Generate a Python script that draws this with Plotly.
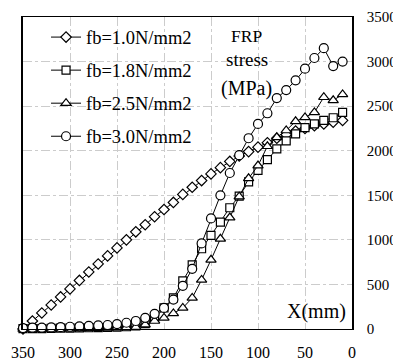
import plotly.graph_objects as go

x_mm = [350, 340, 330, 320, 310, 300, 290, 280, 270, 260, 250, 240, 230, 220, 210, 200,
        190, 180, 170, 160, 150, 140, 130, 120, 110, 100, 90, 80, 70, 60, 50, 40, 30, 20, 10]

fb10 = [0, 90, 180, 270, 360, 450, 545, 640, 730, 820, 910, 1000, 1090, 1170, 1260, 1340,
        1420, 1510, 1590, 1665, 1740, 1810, 1880, 1940, 1990, 2040, 2090, 2140, 2180, 2220,
        2250, 2280, 2300, 2320, 2340]
fb18 = [5, 5, 5, 8, 10, 10, 12, 14, 15, 18, 20, 25, 35, 60, 120, 236,
        350, 540, 720, 900, 1050, 1200, 1360, 1490, 1650, 1780, 1900, 2020, 2110, 2190,
        2260, 2300, 2340, 2370, 2430]
fb25 = [0, 0, 2, 3, 5, 5, 6, 8, 10, 12, 15, 18, 22, 50, 90, 124,
        175, 236, 349, 551, 776, 1012, 1250, 1485, 1690, 1833, 2050, 2150, 2227, 2330,
        2373, 2430, 2600, 2565, 2632]
fb30 = [10, 15, 15, 18, 20, 25, 30, 35, 40, 45, 55, 70, 90, 125, 170, 236,
        330, 484, 675, 960, 1240, 1500, 1750, 1950, 2140, 2300, 2420, 2590, 2680, 2790,
        2920, 3040, 3150, 2950, 3000]

names = ["fb=1.0N/mm2", "fb=1.8N/mm2", "fb=2.5N/mm2", "fb=3.0N/mm2"]
series = [fb10, fb18, fb25, fb30]
symbols = ["diamond", "square", "triangle-up", "circle"]
sizes = [8, 8, 9, 9]

FONT = "Liberation Serif, Times New Roman, serif"

fig = go.Figure()
for i, (nm, ys, sym, sz) in enumerate(zip(names, series, symbols, sizes)):
    fig.add_trace(go.Scatter(
        x=x_mm, y=ys, name=nm, mode="lines+markers",
        line=dict(color="black", width=1),
        marker=dict(symbol=sym, size=sz, color="white",
                    line=dict(color="black", width=1.2)),
        cliponaxis=False, legendgroup=nm,
    ))

fig.update_layout(
    width=393, height=355,
    margin=dict(l=15, r=49, t=9, b=34),
    paper_bgcolor="white", plot_bgcolor="white",
    font=dict(family=FONT, size=16, color="black"),
    showlegend=True,
    legend=dict(x=0.07, y=0.995, xanchor="left", yanchor="top",
                bgcolor="rgba(0,0,0,0)", font=dict(family=FONT, size=18.5),
                tracegroupgap=6, itemwidth=30),
    xaxis=dict(range=[350, 0], tickvals=[350, 300, 250, 200, 150, 100, 50, 0],
               showline=True, linecolor="black", linewidth=1, mirror=True,
               showgrid=True, gridcolor="#cccccc", griddash="dashdot", gridwidth=0.8,
               zeroline=False, ticks="", tickfont=dict(size=16), automargin=False,
               ticklabelstandoff=9),
    yaxis=dict(range=[0, 3500], side="right", tickvals=[0, 500, 1000, 1500, 2000, 2500, 3000, 3500],
               showline=True, linecolor="black", linewidth=1.5, mirror=True,
               showgrid=True, gridcolor="#cccccc", griddash="dashdot", gridwidth=0.8,
               zeroline=False, ticks="", tickfont=dict(size=15), automargin=False,
               ticklabelstandoff=10),
    annotations=[
        dict(x=112, y=3285, xref="x", yref="y", text="FRP", showarrow=False,
             font=dict(family=FONT, size=17.5)),
        dict(x=112, y=3020, xref="x", yref="y", text="stress", showarrow=False,
             font=dict(family=FONT, size=19)),
        dict(x=112, y=2700, xref="x", yref="y", text="(MPa)", showarrow=False,
             font=dict(family=FONT, size=20)),
        dict(x=38, y=200, xref="x", yref="y", text="X(mm)", showarrow=False,
             font=dict(family=FONT, size=20)),
    ],
)

fig.write_html("out.html")
